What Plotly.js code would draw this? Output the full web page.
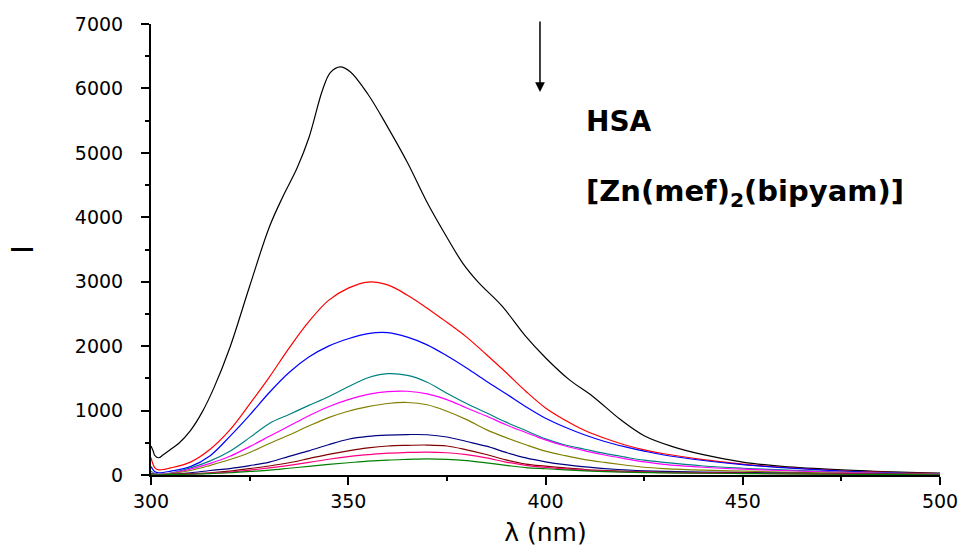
<!DOCTYPE html>
<html>
<head>
<meta charset="utf-8">
<script src="https://cdn.plot.ly/plotly-3.0.1.min.js"></script>
<style>html,body{margin:0;padding:0;background:#fff;}#chart{width:962px;height:547px;}</style>
</head>
<body>
<div id="chart"></div>
<script>
// Wavelength grid (nm) shared by the lower spectra
const wavelength = [300,301,302,305,310,315,320,325,330,335,340,345,350,355,360,365,370,375,380,385,390,395,400,405,410,415,420,425,430,440,450,460,475,490,500];
// Wavelengths read for the top (black) spectrum
const wavelengthBlack = [300,300.5,301,302,303,305,307,310,313,316,320,325,330,333.5,337,340,343.5,345.5,348,350.5,355,360,365,370,375,379,383,389,395,400,406,412,419,425,432,440,450,460,475,490,500];

// Fluorescence intensity of each spectrum (top to bottom)
const sBlack   = [450,380,300,268,310,400,490,690,980,1360,1980,2930,3850,4330,4760,5230,5980,6250,6335,6260,5910,5400,4850,4230,3690,3290,2990,2620,2150,1820,1480,1220,860,610,445,315,200,135,80,45,30];
const sRed     = [270,110,80,110,200,400,700,1100,1520,1970,2380,2710,2900,2995,2950,2790,2590,2370,2140,1870,1590,1300,1040,850,690,570,470,390,330,240,170,120,65,35,22];
const sBlue    = [130,50,35,60,130,300,600,930,1280,1590,1830,2000,2115,2195,2210,2140,2020,1850,1660,1455,1260,1060,880,740,620,520,440,370,310,225,160,115,62,30,20];
const sTeal    = [60,25,15,30,110,220,370,580,800,940,1080,1215,1370,1510,1572,1545,1440,1270,1110,965,820,690,560,465,400,335,280,230,195,140,105,80,45,25,15];
const sMagenta = [30,15,10,25,90,180,290,440,600,760,920,1060,1170,1250,1295,1300,1260,1170,1040,915,780,660,545,450,375,310,255,205,165,120,90,70,40,22,15];
const sOlive   = [20,10,8,20,70,150,240,350,490,620,760,890,990,1060,1110,1125,1090,990,860,705,580,470,370,300,240,195,155,120,100,75,60,45,30,18,12];
const sNavy    = [15,8,5,10,35,70,100,145,200,290,375,470,555,600,620,628,625,590,520,447,350,265,205,160,125,100,80,65,55,45,38,30,20,12,8];
const sMaroon  = [10,6,5,8,20,35,60,100,140,190,255,320,375,420,450,460,465,450,390,318,235,170,138,110,85,70,58,48,42,35,30,25,18,10,6];
const sPink    = [8,5,4,6,15,28,45,75,110,150,195,245,285,315,340,350,355,345,315,267,200,150,118,95,75,60,50,42,36,30,25,20,15,8,5];
const sGreen   = [5,4,3,5,12,22,35,55,75,105,135,165,190,215,232,242,250,242,222,188,150,115,97,80,65,52,45,38,33,27,22,18,12,7,4];

const seriesList = [sBlack,sRed,sBlue,sTeal,sMagenta,sOlive,sNavy,sMaroon,sPink,sGreen];
const seriesColors = ['#000000','#ff0000','#0000ff','#008080','#ff00ff','#808000','#000080','#800000','#ff0080','#008000'];

const xTickVals = [300,350,400,450,500];
const yTickVals = [0,1000,2000,3000,4000,5000,6000,7000];

const traces = seriesList.map((ys, i) => ({
  x: i === 0 ? wavelengthBlack : wavelength,
  y: ys,
  type: 'scatter',
  mode: 'lines',
  line: {color: seriesColors[i], width: 1.2, shape: 'spline', smoothing: 1},
  hoverinfo: 'skip',
  showlegend: false
}));

const font = 'DejaVu Sans, Arial, sans-serif';

const layout = {
  width: 962,
  height: 547,
  margin: {l: 151, r: 22, t: 24, b: 72},
  paper_bgcolor: '#ffffff',
  plot_bgcolor: '#ffffff',
  showlegend: false,
  font: {family: font, color: '#000000', size: 18},
  xaxis: {
    range: [300, 500],
    tickvals: xTickVals,
    ticktext: xTickVals.map(String),
    ticks: 'outside',
    ticklen: 8,
    tickwidth: 2,
    tickcolor: '#000000',
    ticklabelstandoff: 0,
    minor: {dtick: 25, tick0: 300, ticks: 'outside', ticklen: 4, tickwidth: 2, tickcolor: '#000000', showgrid: false},
    showline: true,
    linecolor: '#000000',
    linewidth: 2,
    showgrid: false,
    zeroline: false,
    tickfont: {family: font, size: 19, color: '#000000'},
    title: {text: 'λ (nm)', font: {family: font, size: 25, color: '#000000'}, standoff: 23}
  },
  yaxis: {
    range: [0, 7000],
    tickvals: yTickVals,
    ticktext: yTickVals.map(String),
    ticks: 'outside',
    ticklen: 8,
    tickwidth: 2,
    tickcolor: '#000000',
    ticklabelstandoff: 14,
    minor: {dtick: 500, tick0: 0, ticks: 'outside', ticklen: 4, tickwidth: 2, tickcolor: '#000000', showgrid: false},
    showline: true,
    linecolor: '#000000',
    linewidth: 2,
    showgrid: false,
    zeroline: false,
    tickfont: {family: font, size: 19, color: '#000000'},
    title: {text: 'I', font: {family: 'Liberation Sans, Arial, sans-serif', size: 32, color: '#000000'}, standoff: 32}
  },
  annotations: [
    {
      x: 398.6, y: 5946, xref: 'x', yref: 'y',
      ax: 0, ay: -72, axref: 'pixel', ayref: 'pixel',
      showarrow: true, arrowhead: 2, arrowsize: 1.3, arrowwidth: 1.5, arrowcolor: '#000000',
      text: ''
    },
    {
      x: 0.549, y: 0.783, xref: 'paper', yref: 'paper',
      xanchor: 'left', yanchor: 'middle', showarrow: false,
      text: '<b>HSA</b>',
      font: {family: font, size: 28, color: '#000000'}
    },
    {
      x: 0.549, y: 0.625, xref: 'paper', yref: 'paper',
      xanchor: 'left', yanchor: 'middle', showarrow: false,
      text: '<b>[Zn(mef)<sub>2</sub>(bipyam)]</b>',
      font: {family: font, size: 29, color: '#000000'}
    }
  ]
};

Plotly.newPlot('chart', traces, layout, {displayModeBar: false, staticPlot: true});
</script>
</body>
</html>
